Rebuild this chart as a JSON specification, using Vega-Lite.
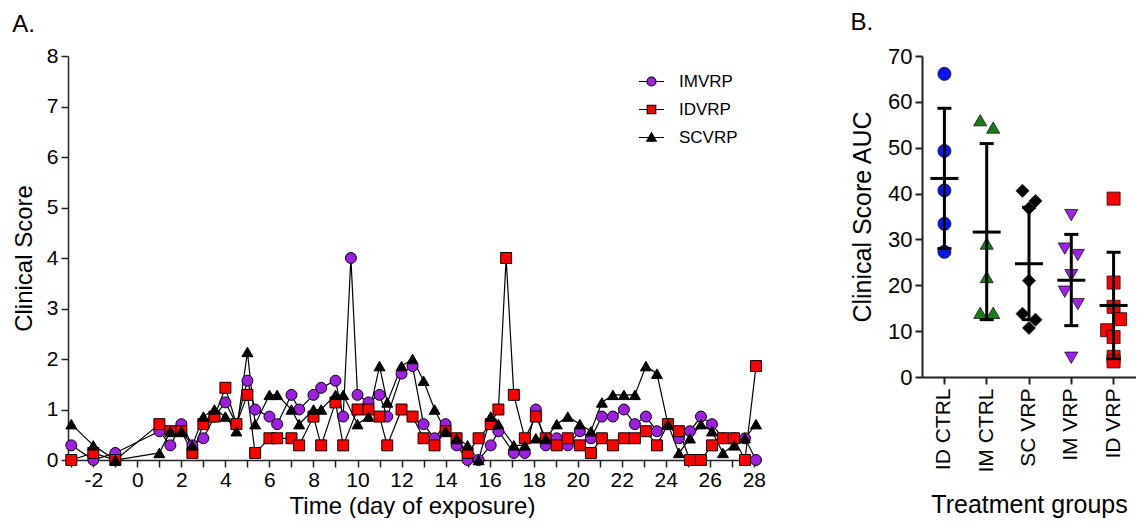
{
  "$schema": "https://vega.github.io/schema/vega-lite/v6.json",
  "padding": {"left": 12, "top": 11, "right": 0, "bottom": 0},
  "spacing": 84,
  "config": {
    "font": "Liberation Sans",
    "view": {"stroke": null},
    "axis": {"grid": false, "domainColor": "#222", "domainWidth": 1.5, "tickColor": "#222", "tickWidth": 1.5, "tickSize": 7, "labelFontSize": 21, "labelColor": "#000", "titleFontSize": 24, "titleFontWeight": "normal", "titleColor": "#000", "labelFlush": false, "labelOverlap": false},
    "title": {"fontSize": 24, "fontWeight": "normal", "anchor": "start", "color": "#000"}
  },
  "datasets": {
    "scores": [
      {"t": -3, "series": "IMVRP", "v": 0.29}, {"t": -2, "series": "IMVRP", "v": 0}, {"t": -1, "series": "IMVRP", "v": 0.14},
      {"t": 1, "series": "IMVRP", "v": 0.57}, {"t": 1.5, "series": "IMVRP", "v": 0.29}, {"t": 2, "series": "IMVRP", "v": 0.71},
      {"t": 2.5, "series": "IMVRP", "v": 0.29}, {"t": 3, "series": "IMVRP", "v": 0.43}, {"t": 3.5, "series": "IMVRP", "v": 0.86},
      {"t": 4, "series": "IMVRP", "v": 1.14}, {"t": 4.5, "series": "IMVRP", "v": 0.71}, {"t": 5, "series": "IMVRP", "v": 1.57},
      {"t": 5.35, "series": "IMVRP", "v": 1.0}, {"t": 6, "series": "IMVRP", "v": 0.86}, {"t": 6.35, "series": "IMVRP", "v": 0.71},
      {"t": 7, "series": "IMVRP", "v": 1.29}, {"t": 7.35, "series": "IMVRP", "v": 1.0}, {"t": 8, "series": "IMVRP", "v": 1.29},
      {"t": 8.35, "series": "IMVRP", "v": 1.43}, {"t": 9, "series": "IMVRP", "v": 1.57}, {"t": 9.35, "series": "IMVRP", "v": 0.86},
      {"t": 9.7, "series": "IMVRP", "v": 4.0}, {"t": 10, "series": "IMVRP", "v": 1.29}, {"t": 10.5, "series": "IMVRP", "v": 1.14},
      {"t": 11, "series": "IMVRP", "v": 1.29}, {"t": 11.35, "series": "IMVRP", "v": 0.86}, {"t": 12, "series": "IMVRP", "v": 1.71},
      {"t": 12.5, "series": "IMVRP", "v": 1.86}, {"t": 13, "series": "IMVRP", "v": 0.71}, {"t": 13.5, "series": "IMVRP", "v": 0.43},
      {"t": 14, "series": "IMVRP", "v": 0.71}, {"t": 14.5, "series": "IMVRP", "v": 0.29}, {"t": 15, "series": "IMVRP", "v": 0},
      {"t": 15.5, "series": "IMVRP", "v": 0}, {"t": 16.05, "series": "IMVRP", "v": 0.29}, {"t": 16.4, "series": "IMVRP", "v": 0.57},
      {"t": 17.1, "series": "IMVRP", "v": 0.14}, {"t": 17.6, "series": "IMVRP", "v": 0.14}, {"t": 18.1, "series": "IMVRP", "v": 1.0},
      {"t": 18.55, "series": "IMVRP", "v": 0.29}, {"t": 19.05, "series": "IMVRP", "v": 0.43}, {"t": 19.55, "series": "IMVRP", "v": 0.29},
      {"t": 20.1, "series": "IMVRP", "v": 0.57}, {"t": 20.6, "series": "IMVRP", "v": 0.43}, {"t": 21.1, "series": "IMVRP", "v": 0.86},
      {"t": 21.6, "series": "IMVRP", "v": 0.86}, {"t": 22.1, "series": "IMVRP", "v": 1.0}, {"t": 22.6, "series": "IMVRP", "v": 0.71},
      {"t": 23.1, "series": "IMVRP", "v": 0.86}, {"t": 23.6, "series": "IMVRP", "v": 0.57}, {"t": 24.1, "series": "IMVRP", "v": 0.71},
      {"t": 24.6, "series": "IMVRP", "v": 0.43}, {"t": 25.1, "series": "IMVRP", "v": 0.57}, {"t": 25.6, "series": "IMVRP", "v": 0.86},
      {"t": 26.1, "series": "IMVRP", "v": 0.71}, {"t": 26.6, "series": "IMVRP", "v": 0.43}, {"t": 27.1, "series": "IMVRP", "v": 0.43},
      {"t": 27.6, "series": "IMVRP", "v": 0.43}, {"t": 28.1, "series": "IMVRP", "v": 0},

      {"t": -3, "series": "IDVRP", "v": 0}, {"t": -2, "series": "IDVRP", "v": 0.14}, {"t": -1, "series": "IDVRP", "v": 0},
      {"t": 1, "series": "IDVRP", "v": 0.71}, {"t": 1.5, "series": "IDVRP", "v": 0.57}, {"t": 2, "series": "IDVRP", "v": 0.57},
      {"t": 2.5, "series": "IDVRP", "v": 0.14}, {"t": 3, "series": "IDVRP", "v": 0.71}, {"t": 3.5, "series": "IDVRP", "v": 0.86},
      {"t": 4, "series": "IDVRP", "v": 1.43}, {"t": 4.5, "series": "IDVRP", "v": 0.71}, {"t": 5, "series": "IDVRP", "v": 1.29},
      {"t": 5.35, "series": "IDVRP", "v": 0.14}, {"t": 6, "series": "IDVRP", "v": 0.43}, {"t": 6.35, "series": "IDVRP", "v": 0.43},
      {"t": 7, "series": "IDVRP", "v": 0.43}, {"t": 7.35, "series": "IDVRP", "v": 0.29}, {"t": 8, "series": "IDVRP", "v": 0.86},
      {"t": 8.35, "series": "IDVRP", "v": 0.29}, {"t": 9, "series": "IDVRP", "v": 1.14}, {"t": 9.35, "series": "IDVRP", "v": 0.29},
      {"t": 10, "series": "IDVRP", "v": 1.0}, {"t": 10.5, "series": "IDVRP", "v": 1.0}, {"t": 11, "series": "IDVRP", "v": 0.86},
      {"t": 11.35, "series": "IDVRP", "v": 0.29}, {"t": 12, "series": "IDVRP", "v": 1.0}, {"t": 12.5, "series": "IDVRP", "v": 0.86},
      {"t": 13, "series": "IDVRP", "v": 0.43}, {"t": 13.5, "series": "IDVRP", "v": 0.29}, {"t": 14, "series": "IDVRP", "v": 0.57},
      {"t": 14.5, "series": "IDVRP", "v": 0.43}, {"t": 15, "series": "IDVRP", "v": 0.14}, {"t": 15.5, "series": "IDVRP", "v": 0.43},
      {"t": 16.05, "series": "IDVRP", "v": 0.71}, {"t": 16.4, "series": "IDVRP", "v": 1.0}, {"t": 16.75, "series": "IDVRP", "v": 4.0},
      {"t": 17.1, "series": "IDVRP", "v": 1.29}, {"t": 17.6, "series": "IDVRP", "v": 0.43}, {"t": 18.1, "series": "IDVRP", "v": 0.86},
      {"t": 18.55, "series": "IDVRP", "v": 0.43}, {"t": 19.05, "series": "IDVRP", "v": 0.29}, {"t": 19.55, "series": "IDVRP", "v": 0.43},
      {"t": 20.1, "series": "IDVRP", "v": 0.29}, {"t": 20.6, "series": "IDVRP", "v": 0.14}, {"t": 21.1, "series": "IDVRP", "v": 0.43},
      {"t": 21.6, "series": "IDVRP", "v": 0.29}, {"t": 22.1, "series": "IDVRP", "v": 0.43}, {"t": 22.6, "series": "IDVRP", "v": 0.43},
      {"t": 23.1, "series": "IDVRP", "v": 0.57}, {"t": 23.6, "series": "IDVRP", "v": 0.29}, {"t": 24.1, "series": "IDVRP", "v": 0.71},
      {"t": 24.6, "series": "IDVRP", "v": 0.57}, {"t": 25.1, "series": "IDVRP", "v": 0}, {"t": 25.6, "series": "IDVRP", "v": 0},
      {"t": 26.1, "series": "IDVRP", "v": 0.29}, {"t": 26.6, "series": "IDVRP", "v": 0.43}, {"t": 27.1, "series": "IDVRP", "v": 0.43},
      {"t": 27.6, "series": "IDVRP", "v": 0}, {"t": 28.1, "series": "IDVRP", "v": 1.86},

      {"t": -3, "series": "SCVRP", "v": 0.71}, {"t": -2, "series": "SCVRP", "v": 0.29}, {"t": -1, "series": "SCVRP", "v": 0},
      {"t": 1, "series": "SCVRP", "v": 0.14}, {"t": 1.5, "series": "SCVRP", "v": 0.57}, {"t": 2, "series": "SCVRP", "v": 0.57},
      {"t": 2.5, "series": "SCVRP", "v": 0.29}, {"t": 3, "series": "SCVRP", "v": 0.86}, {"t": 3.5, "series": "SCVRP", "v": 1.0},
      {"t": 4, "series": "SCVRP", "v": 0.86}, {"t": 4.5, "series": "SCVRP", "v": 0.57}, {"t": 5, "series": "SCVRP", "v": 2.14},
      {"t": 5.35, "series": "SCVRP", "v": 0.71}, {"t": 6, "series": "SCVRP", "v": 1.29}, {"t": 6.35, "series": "SCVRP", "v": 1.29},
      {"t": 7, "series": "SCVRP", "v": 1.0}, {"t": 7.35, "series": "SCVRP", "v": 0.71}, {"t": 8, "series": "SCVRP", "v": 1.0},
      {"t": 8.35, "series": "SCVRP", "v": 1.0}, {"t": 9, "series": "SCVRP", "v": 1.29}, {"t": 9.35, "series": "SCVRP", "v": 1.29},
      {"t": 10, "series": "SCVRP", "v": 0.71}, {"t": 10.5, "series": "SCVRP", "v": 0.86}, {"t": 11, "series": "SCVRP", "v": 1.86},
      {"t": 11.35, "series": "SCVRP", "v": 1.14}, {"t": 12, "series": "SCVRP", "v": 1.86}, {"t": 12.5, "series": "SCVRP", "v": 2.0},
      {"t": 13, "series": "SCVRP", "v": 1.57}, {"t": 13.5, "series": "SCVRP", "v": 1.0}, {"t": 14, "series": "SCVRP", "v": 0.57},
      {"t": 14.5, "series": "SCVRP", "v": 0.43}, {"t": 15, "series": "SCVRP", "v": 0.29}, {"t": 15.5, "series": "SCVRP", "v": 0},
      {"t": 16.05, "series": "SCVRP", "v": 0.86}, {"t": 16.4, "series": "SCVRP", "v": 0.71}, {"t": 17.1, "series": "SCVRP", "v": 0.29},
      {"t": 17.6, "series": "SCVRP", "v": 0.29}, {"t": 18.1, "series": "SCVRP", "v": 0.43}, {"t": 18.55, "series": "SCVRP", "v": 0.43},
      {"t": 19.05, "series": "SCVRP", "v": 0.71}, {"t": 19.55, "series": "SCVRP", "v": 0.86}, {"t": 20.1, "series": "SCVRP", "v": 0.71},
      {"t": 20.6, "series": "SCVRP", "v": 0.57}, {"t": 21.1, "series": "SCVRP", "v": 1.14}, {"t": 21.6, "series": "SCVRP", "v": 1.29},
      {"t": 22.1, "series": "SCVRP", "v": 1.29}, {"t": 22.6, "series": "SCVRP", "v": 1.29}, {"t": 23.1, "series": "SCVRP", "v": 1.86},
      {"t": 23.6, "series": "SCVRP", "v": 1.71}, {"t": 24.1, "series": "SCVRP", "v": 0.71}, {"t": 24.6, "series": "SCVRP", "v": 0.14},
      {"t": 25.1, "series": "SCVRP", "v": 0.43}, {"t": 25.6, "series": "SCVRP", "v": 0.71}, {"t": 26.1, "series": "SCVRP", "v": 0.57},
      {"t": 26.6, "series": "SCVRP", "v": 0.14}, {"t": 27.1, "series": "SCVRP", "v": 0.29}, {"t": 27.6, "series": "SCVRP", "v": 0.43},
      {"t": 28.1, "series": "SCVRP", "v": 0.71}
    ],
    "auc": [
      {"group": "ID CTRL", "auc": 66.1, "col": "C"}, {"group": "ID CTRL", "auc": 49.3, "col": "C"}, {"group": "ID CTRL", "auc": 40.7, "col": "C"},
      {"group": "ID CTRL", "auc": 33.4, "col": "C"}, {"group": "ID CTRL", "auc": 27.3, "col": "C"},
      {"group": "IM CTRL", "auc": 56.0, "col": "L"}, {"group": "IM CTRL", "auc": 54.4, "col": "R"}, {"group": "IM CTRL", "auc": 29.1, "col": "C"},
      {"group": "IM CTRL", "auc": 21.8, "col": "C"}, {"group": "IM CTRL", "auc": 14.0, "col": "L"}, {"group": "IM CTRL", "auc": 14.0, "col": "R"},
      {"group": "SC VRP", "auc": 40.6, "col": "L"}, {"group": "SC VRP", "auc": 38.4, "col": "R"}, {"group": "SC VRP", "auc": 36.8, "col": "C"},
      {"group": "SC VRP", "auc": 21.0, "col": "C"}, {"group": "SC VRP", "auc": 13.8, "col": "L"}, {"group": "SC VRP", "auc": 12.5, "col": "R"},
      {"group": "SC VRP", "auc": 10.7, "col": "C"},
      {"group": "IM VRP", "auc": 35.3, "col": "C"}, {"group": "IM VRP", "auc": 28.0, "col": "L"}, {"group": "IM VRP", "auc": 26.6, "col": "R"},
      {"group": "IM VRP", "auc": 22.2, "col": "C"}, {"group": "IM VRP", "auc": 18.6, "col": "L"}, {"group": "IM VRP", "auc": 15.9, "col": "R"},
      {"group": "IM VRP", "auc": 4.2, "col": "C"},
      {"group": "ID VRP", "auc": 38.9, "col": "C"}, {"group": "ID VRP", "auc": 20.6, "col": "C"}, {"group": "ID VRP", "auc": 15.3, "col": "C"},
      {"group": "ID VRP", "auc": 12.6, "col": "R"}, {"group": "ID VRP", "auc": 10.2, "col": "L"}, {"group": "ID VRP", "auc": 8.7, "col": "C"},
      {"group": "ID VRP", "auc": 4.4, "col": "C"}, {"group": "ID VRP", "auc": 3.4, "col": "C"}
    ],
    "summary": [
      {"group": "ID CTRL", "mean": 43.3, "lo": 28.0, "hi": 58.6},
      {"group": "IM CTRL", "mean": 31.6, "lo": 12.5, "hi": 50.9},
      {"group": "SC VRP", "mean": 24.7, "lo": 12.5, "hi": 37.0},
      {"group": "IM VRP", "mean": 21.1, "lo": 11.2, "hi": 31.1},
      {"group": "ID VRP", "mean": 15.6, "lo": 4.0, "hi": 27.2}
    ]
  },
  "hconcat": [
    {
      "width": 688,
      "height": 404,
      "title": {"text": "A.", "offset": 8},
      "data": {"name": "scores"},
      "encoding": {
        "x": {"field": "t", "type": "quantitative", "scale": {"domain": [-3.15, 28.1], "nice": false, "zero": false},
              "axis": {"title": "Time (day of exposure)", "values": [-3,-2,-1,0,1,2,3,4,5,6,7,8,9,10,11,12,13,14,15,16,17,18,19,20,21,22,23,24,25,26,27,28],
                       "labelExpr": "datum.value % 2 === 0 ? '' + datum.value : ''", "labelPadding": 2, "titlePadding": 4}},
        "y": {"field": "v", "type": "quantitative", "scale": {"domain": [0, 8], "nice": false},
              "axis": {"title": "Clinical Score", "values": [0,1,2,3,4,5,6,7,8], "labelPadding": 3, "titlePadding": 10}}
      },
      "layer": [
        {"mark": {"type": "line", "color": "#000", "strokeWidth": 1.2},
         "encoding": {"detail": {"field": "series"}}},
        {"mark": {"type": "point", "filled": true, "size": 120, "stroke": "#000", "strokeWidth": 1, "opacity": 1},
         "encoding": {
           "shape": {"field": "series", "scale": {"domain": ["IMVRP", "IDVRP", "SCVRP"], "range": ["circle", "square", "triangle-up"]}, "legend": null},
           "fill": {"field": "series", "scale": {"domain": ["IMVRP", "IDVRP", "SCVRP"], "range": ["#9d1fe0", "#ff0000", "#000000"]}, "legend": null}
         }},
        {"transform": [{"filter": "datum.t > 1000"}],
         "mark": {"type": "point", "filled": true, "size": 625, "stroke": "#000", "strokeWidth": 1.2, "opacity": 1},
         "encoding": {
           "shape": {"field": "series", "scale": {"domain": ["IMVRP", "IDVRP", "SCVRP"],
             "range": ["M-1,0L-0.36,0M0.36,0L1,0M-0.36,0A0.36,0.36 0 1,0 0.36,0A0.36,0.36 0 1,0 -0.36,0Z",
                       "M-1,0L-0.34,0M0.34,0L1,0M-0.34,-0.34L0.34,-0.34L0.34,0.34L-0.34,0.34Z",
                       "M-1,0L1,0M-0.38,0.3L0,-0.38L0.38,0.3Z"]},
             "legend": {"title": null, "orient": "none", "legendX": 570, "legendY": 12, "labelFontSize": 17, "labelOffset": 14, "rowPadding": 6, "symbolSize": 625, "symbolStrokeColor": "#000", "symbolStrokeWidth": 1.2, "symbolOpacity": 1, "labelColor": "#000",
               "encode": {"symbols": {"update": {"stroke": {"value": "#000"}, "strokeWidth": {"value": 1.2}, "opacity": {"value": 1}}}}}},
           "fill": {"field": "series", "scale": {"domain": ["IMVRP", "IDVRP", "SCVRP"], "range": ["#9d1fe0", "#ff0000", "#000000"]},
             "legend": {"title": null, "orient": "none", "legendX": 570, "legendY": 12, "labelFontSize": 17, "labelOffset": 14, "rowPadding": 6, "symbolSize": 625, "symbolStrokeColor": "#000", "symbolStrokeWidth": 1.2, "symbolOpacity": 1, "labelColor": "#000",
               "encode": {"symbols": {"update": {"stroke": {"value": "#000"}, "strokeWidth": {"value": 1.2}, "opacity": {"value": 1}}}}}}
         }}
      ],
      "resolve": {"scale": {"shape": "independent", "fill": "independent"}}
    },
    {
      "width": 214,
      "height": 321,
      "title": {"text": "B.", "offset": 10},
      "encoding": {
        "x": {"field": "group", "type": "nominal", "sort": ["ID CTRL", "IM CTRL", "SC VRP", "IM VRP", "ID VRP"],
              "scale": {"domain": ["ID CTRL", "IM CTRL", "SC VRP", "IM VRP", "ID VRP"], "paddingInner": 0, "paddingOuter": 0.03},
              "axis": {"title": "Treatment groups", "labelAngle": -90, "labelPadding": 4, "titlePadding": 20, "titleFontSize": 25, "domainWidth": 2, "tickWidth": 2}}
      },
      "layer": [
        {"data": {"name": "auc"},
         "mark": {"type": "point", "filled": true, "size": 170, "stroke": "#111", "strokeWidth": 0.8, "opacity": 1},
         "encoding": {
           "xOffset": {"field": "col", "type": "nominal", "scale": {"domain": ["L", "C", "R"], "range": [11.4, 30.9]}},
           "y": {"field": "auc", "type": "quantitative", "scale": {"domain": [0, 70], "nice": false},
                 "axis": {"title": "Clinical Score AUC", "values": [0,10,20,30,40,50,60,70], "labelPadding": 3, "labelFontSize": 22, "titlePadding": 12, "titleFontSize": 25, "domainWidth": 2, "tickWidth": 2}},
           "shape": {"field": "group", "scale": {"domain": ["ID CTRL", "IM CTRL", "SC VRP", "IM VRP", "ID VRP"], "range": ["circle", "triangle-up", "diamond", "triangle-down", "square"]}, "legend": null},
           "fill": {"field": "group", "scale": {"domain": ["ID CTRL", "IM CTRL", "SC VRP", "IM VRP", "ID VRP"], "range": ["#0a14f0", "#1a7d1a", "#000000", "#a020f0", "#ff0000"]}, "legend": null}
         }},
        {"data": {"name": "summary"},
         "mark": {"type": "rule", "color": "#000", "strokeWidth": 3},
         "encoding": {"y": {"field": "lo", "type": "quantitative"}, "y2": {"field": "hi"}}},
        {"data": {"name": "summary"},
         "mark": {"type": "tick", "color": "#000", "size": 28, "thickness": 3, "opacity": 1},
         "encoding": {"y": {"field": "mean", "type": "quantitative"}}},
        {"data": {"name": "summary"},
         "mark": {"type": "tick", "color": "#000", "size": 14, "thickness": 3, "opacity": 1},
         "encoding": {"y": {"field": "lo", "type": "quantitative"}}},
        {"data": {"name": "summary"},
         "mark": {"type": "tick", "color": "#000", "size": 14, "thickness": 3, "opacity": 1},
         "encoding": {"y": {"field": "hi", "type": "quantitative"}}}
      ]
    }
  ]
}
